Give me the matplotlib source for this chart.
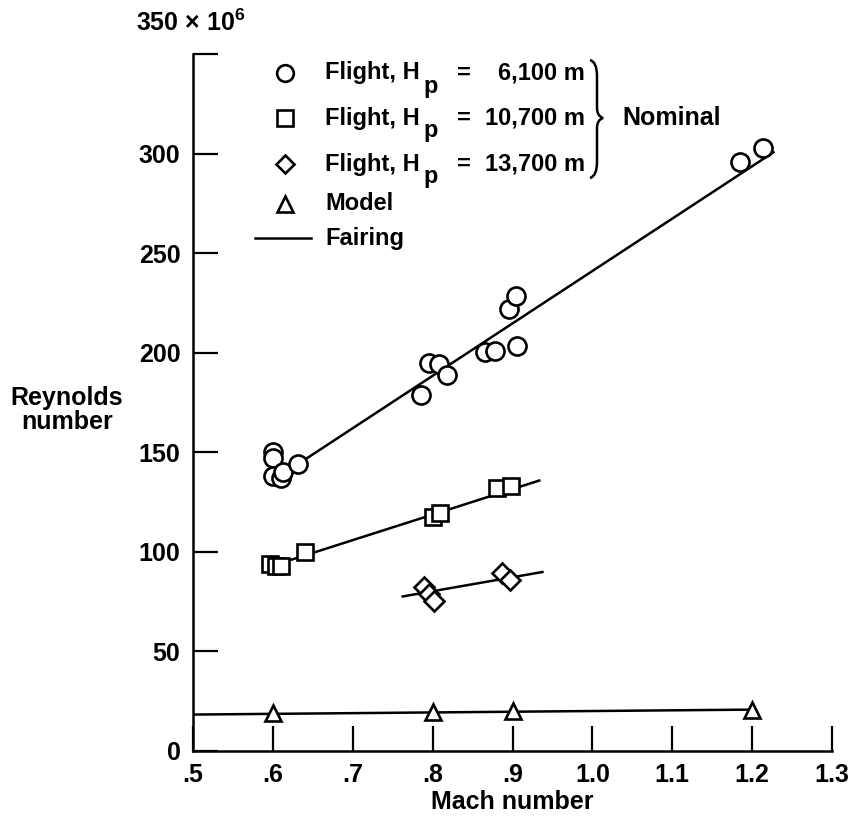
import matplotlib
matplotlib.use("Agg")
import matplotlib.pyplot as plt
from matplotlib.path import Path
from matplotlib.patches import PathPatch

plt.rcParams['font.family'] = ['Liberation Sans', 'DejaVu Sans']
plt.rcParams['font.weight'] = 'bold'
plt.rcParams['mathtext.fontset'] = 'custom'
plt.rcParams['mathtext.rm'] = 'Liberation Sans:bold'
plt.rcParams['mathtext.bf'] = 'Liberation Sans:bold'
plt.rcParams['mathtext.it'] = 'Liberation Sans:bold'

### data (Reynolds number in millions)
mach_6100 = [0.60, 0.60, 0.60, 0.61, 0.613, 0.632, 0.786, 0.796, 0.808, 0.818,
             0.866, 0.878, 0.906, 0.895, 0.905, 1.185, 1.213]
re_6100 = [150, 147, 138, 137, 140, 144, 179, 195, 194.5, 189,
           200.5, 201, 203.5, 222, 228.5, 296, 303]

mach_10700 = [0.597, 0.604, 0.61, 0.64, 0.80, 0.809, 0.88, 0.898]
re_10700 = [94, 93, 93, 100, 117.5, 119.5, 132, 133]

mach_13700 = [0.789, 0.796, 0.802, 0.887, 0.897]
re_13700 = [82.5, 79, 75.5, 89.5, 86]

mach_model = [0.6, 0.8, 0.9, 1.2]
re_model = [19.2, 19.6, 20, 20.8]

# hand faired lines (end points)
fair_6100_m, fair_6100_re = [0.635, 1.228], [145, 301]
fair_10700_m, fair_10700_re = [0.615, 0.935], [95, 136]
fair_13700_m, fair_13700_re = [0.761, 0.939], [77.5, 90]
fair_model_m, fair_model_re = [0.5, 1.205], [18.3, 20.8]

xticks = [0.5, 0.6, 0.7, 0.8, 0.9, 1.0, 1.1, 1.2, 1.3]
xticklabels = [".5", ".6", ".7", ".8", ".9", "1.0", "1.1", "1.2", "1.3"]
yticks = [0, 50, 100, 150, 200, 250, 300, 350]
yticklabels = ["0", "50", "100", "150", "200", "250", "300", ""]

legend_alts = ["6,100", "10,700", "13,700"]

FS = 18      # axis text
LFS = 17     # legend text
W, H = 851, 827
X0, X1, Y0, Y1 = 193, 832, 751, 54   # axes box in pixels
fig = plt.figure(figsize=(W / 100, H / 100), dpi=100)
ax = fig.add_axes([X0 / W, 1 - Y0 / H, (X1 - X0) / W, (Y0 - Y1) / H])

lw = 1.8
mk = dict(linestyle="none", markerfacecolor="white", markeredgecolor="black",
          markeredgewidth=1.9, zorder=3)

for m, r in [(fair_6100_m, fair_6100_re), (fair_10700_m, fair_10700_re),
             (fair_13700_m, fair_13700_re), (fair_model_m, fair_model_re)]:
    ax.plot(m, r, color="black", lw=lw, zorder=2, solid_capstyle="butt")

ax.plot(mach_6100, re_6100, marker="o", markersize=13, **mk)
ax.plot(mach_10700, re_10700, marker="s", markersize=12, **mk)
ax.plot(mach_13700, re_13700, marker="D", markersize=10, **mk)
ax.plot(mach_model, re_model, marker="^", markersize=12, **mk)

ax.set_xlim(0.5, 1.3)
ax.set_ylim(0, 350)
ax.spines["top"].set_visible(False)
ax.spines["right"].set_visible(False)
ax.spines["left"].set_linewidth(lw)
ax.spines["bottom"].set_linewidth(lw)
ax.set_xticks(xticks)
ax.set_xticklabels(xticklabels)
ax.set_yticks(yticks)
ax.set_yticklabels(yticklabels)
ax.tick_params(direction="in", length=18, width=1.6, labelsize=FS)
ax.tick_params(axis="x", pad=9)
ax.tick_params(axis="y", pad=9)

ax.set_xlabel("Mach number", fontsize=FS, fontweight="bold", labelpad=2)
fig.text(67 / W, 1 - 410 / H, "Reynolds\nnumber", ha="center", va="center",
         fontsize=FS, fontweight="bold", linespacing=0.95)
ax.annotate(r"350 $\times$ 10$^{6}$", xy=(0, 1), xycoords="axes fraction",
            xytext=(-57, 31), textcoords="offset pixels", ha="left", va="center",
            fontsize=FS, fontweight="bold")

### legend, drawn by hand in axes fraction coordinates
def ax_frac(px, py):
    return (px - X0) / (X1 - X0), (Y0 - py) / (Y0 - Y1)

rows = [("o", 12, 73), ("s", 11, 118), ("D", 9.5, 164)]
for (marker, ms, py), alt in zip(rows, legend_alts):
    x0, y0 = ax_frac(285, py)
    ax.plot([x0], [y0], marker=marker, markersize=ms, transform=ax.transAxes,
            clip_on=False, **mk)
    xt, _ = ax_frac(325, py)
    ax.text(xt, y0, "Flight, H", transform=ax.transAxes,
            ha="left", va="center", fontsize=LFS, fontweight="bold")
    xp, yp = ax_frac(423, py + 13)
    ax.text(xp, yp, "p", transform=ax.transAxes,
            ha="left", va="center", fontsize=LFS, fontweight="bold")
    xe, _ = ax_frac(464, py)
    ax.text(xe, y0, "=", transform=ax.transAxes, ha="center", va="center",
            fontsize=LFS, fontweight="bold")
    xv, _ = ax_frac(585, py)
    ax.text(xv, y0, alt + " m", transform=ax.transAxes, ha="right", va="center",
            fontsize=LFS, fontweight="bold")

x0, y0 = ax_frac(285, 204)
ax.plot([x0], [y0], marker="^", markersize=11, transform=ax.transAxes,
        clip_on=False, **mk)
xt, _ = ax_frac(325, 204)
ax.text(xt, y0, "Model", transform=ax.transAxes, ha="left", va="center",
        fontsize=LFS, fontweight="bold")
xa, yl = ax_frac(255, 238)
xb, _ = ax_frac(311, 238)
ax.plot([xa, xb], [yl, yl], color="black", lw=lw, transform=ax.transAxes)
ax.text(xt, yl, "Fairing", transform=ax.transAxes, ha="left", va="center",
        fontsize=LFS, fontweight="bold")

# curly brace grouping the flight rows
bx, tip = 590, 603
pts = [(bx, 60), (bx + 7, 62), (bx + 7, 76), (bx + 7, 108), (bx + 7, 116), (tip, 118),
       (bx + 7, 120), (bx + 7, 128), (bx + 7, 162), (bx + 7, 176), (bx, 178)]
codes = [Path.MOVETO, Path.CURVE3, Path.CURVE3, Path.LINETO, Path.CURVE3, Path.CURVE3,
         Path.CURVE3, Path.CURVE3, Path.LINETO, Path.CURVE3, Path.CURVE3]
brace = Path([ax_frac(px, py) for px, py in pts], codes)
ax.add_patch(PathPatch(brace, facecolor="none", edgecolor="black", lw=1.8,
                       transform=ax.transAxes, clip_on=False))
xn, yn = ax_frac(622, 118)
ax.text(xn, yn, "Nominal", transform=ax.transAxes, ha="left", va="center",
        fontsize=FS, fontweight="bold")

fig.savefig("out.png", dpi=100)
